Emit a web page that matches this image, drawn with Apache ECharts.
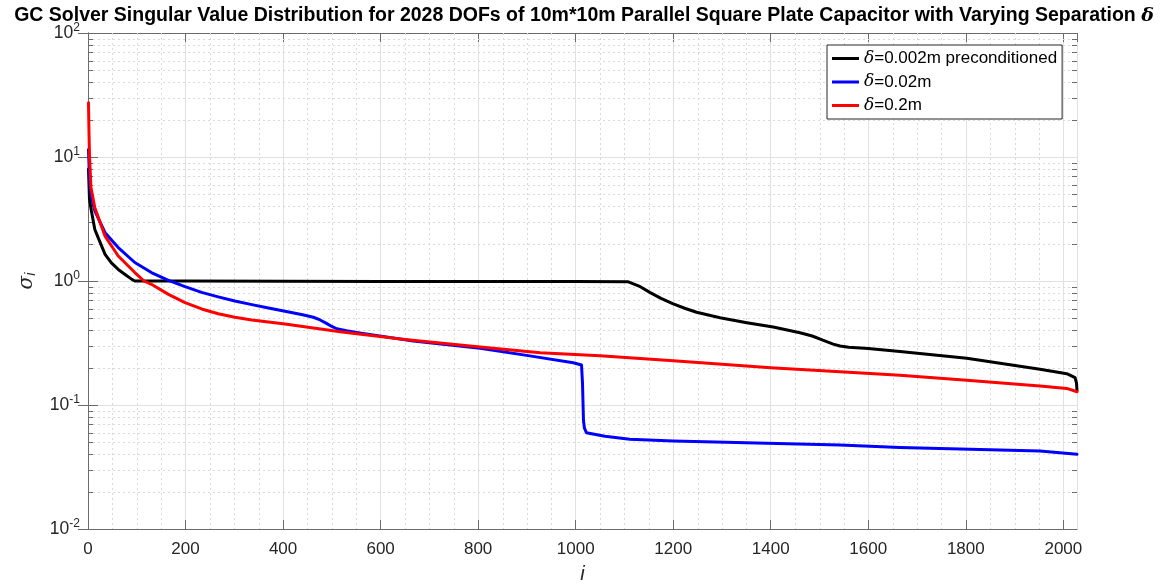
<!DOCTYPE html>
<html>
<head>
<meta charset="utf-8">
<script src="https://cdn.jsdelivr.net/npm/echarts@6/dist/echarts.min.js"></script>
<style>
  html, body { margin: 0; padding: 0; background: #ffffff; }
  #chart { width: 1168px; height: 584px; }
</style>
</head>
<body>
<div id="chart"></div>
<script>
// Singular values sigma_i against index i, one series per plate separation.
const blackIdx = [1, 3, 7, 14, 21, 35, 48, 62, 76, 90, 96, 200, 400, 600, 800, 1000, 1108, 1130, 1152, 1175, 1200, 1225, 1248, 1296, 1351, 1405, 1460, 1485, 1508, 1528, 1542, 1560, 1600, 1665, 1802, 1952, 2007, 2024, 2027, 2028];
const blackVal = [8.0, 4.6, 3.67, 2.6, 2.23, 1.64, 1.40, 1.24, 1.13, 1.03, 1.0, 1.0, 0.995, 0.993, 0.992, 0.99, 0.985, 0.91, 0.81, 0.725, 0.655, 0.60, 0.56, 0.506, 0.461, 0.425, 0.383, 0.36, 0.332, 0.31, 0.299, 0.292, 0.285, 0.27, 0.238, 0.194, 0.179, 0.166, 0.15, 0.13];

const blueIdx = [1, 3, 6, 14, 35, 62, 96, 130, 165, 199, 233, 267, 301, 336, 370, 404, 440, 462, 476, 489, 500, 510, 530, 560, 667, 804, 906, 995, 1012, 1014, 1016, 1018, 1022, 1060, 1111, 1200, 1542, 1665, 1952, 2028];
const blueVal = [11.5, 6.8, 5.0, 3.67, 2.45, 1.86, 1.41, 1.17, 1.01, 0.90, 0.81, 0.745, 0.69, 0.645, 0.605, 0.57, 0.535, 0.51, 0.485, 0.455, 0.43, 0.412, 0.397, 0.38, 0.328, 0.287, 0.249, 0.219, 0.21, 0.15, 0.075, 0.065, 0.0598, 0.056, 0.053, 0.0513, 0.0476, 0.0454, 0.0425, 0.040];

const redIdx = [1, 2, 3, 6, 14, 35, 62, 96, 115, 130, 165, 199, 233, 267, 301, 336, 404, 517, 650, 804, 927, 1050, 1200, 1400, 1542, 1665, 1802, 1952, 2007, 2028];
const redVal = [27.4, 16.0, 10.5, 5.7, 3.9, 2.3, 1.59, 1.17, 1.0, 0.94, 0.78, 0.67, 0.595, 0.545, 0.51, 0.485, 0.45, 0.39, 0.338, 0.294, 0.264, 0.249, 0.227, 0.2, 0.185, 0.174, 0.158, 0.142, 0.136, 0.128];

const seriesNames = ['δ=0.002m preconditioned', 'δ=0.02m', 'δ=0.2m'];
const seriesColors = ['#000000', '#0000ff', '#ff0000'];

// Axis ranges and tick positions
const xMin = 0, xMax = 2028, xStep = 200;
const yMin = 0.01, yMax = 100;
const xMinorTicks = [50, 100, 150, 250, 300, 350, 450, 500, 550, 650, 700, 750, 850, 900, 950, 1050, 1100, 1150, 1250, 1300, 1350, 1450, 1500, 1550, 1650, 1700, 1750, 1850, 1900, 1950];
const yDecades = [0.01, 0.1, 1, 10];
const yMantissas = [2, 3, 4, 5, 6, 7, 8, 9];

const FONT = '"Liberation Sans", Arial, Helvetica, sans-serif';
const SERIF = '"DejaVu Serif", "Liberation Serif", serif';
const AXIS_COLOR = '#6b6b6b';
const LABEL_COLOR = '#262626';
const MAJOR_GRID = '#e1e1e1';
const MINOR_GRID = '#dadada';

function zip(a, b) { return a.map((v, k) => [v, b[k]]); }

// Minor grid lines (dotted) for both axes plus minor ticks on the log axis
function renderMinor(params, api) {
  const cs = params.coordSys;
  const x0 = cs.x, x1 = cs.x + cs.width, y0 = cs.y, y1 = cs.y + cs.height;
  const children = [];
  const dot = { stroke: MINOR_GRID, lineWidth: 1, lineDash: [2, 3] };
  const tick = { stroke: AXIS_COLOR, lineWidth: 1 };
  xMinorTicks.forEach(v => {
    const px = Math.round(api.coord([v, 1])[0]) + 0.5;
    children.push({ type: 'line', silent: true, shape: { x1: px, y1: y0, x2: px, y2: y1 }, style: dot });
  });
  yDecades.forEach(d => {
    yMantissas.forEach(m => {
      const py = Math.round(api.coord([0, d * m])[1]) + 0.5;
      children.push({ type: 'line', silent: true, shape: { x1: x0, y1: py, x2: x1, y2: py }, style: dot });
      children.push({ type: 'line', silent: true, shape: { x1: x0, y1: py, x2: x0 + 5, y2: py }, style: tick });
      children.push({ type: 'line', silent: true, shape: { x1: x1 - 5, y1: py, x2: x1, y2: py }, style: tick });
    });
  });
  return { type: 'group', children: children };
}

const logLabel = {
  formatter: v => '{b|10}{e|' + Math.round(Math.log10(v)) + '}',
  margin: 8,
  rich: {
    b: { fontSize: 17.5, fontFamily: FONT, color: LABEL_COLOR, verticalAlign: 'bottom', lineHeight: 19 },
    e: { fontSize: 12, fontFamily: FONT, color: LABEL_COLOR, verticalAlign: 'bottom', padding: [0, 0, 9, 0], lineHeight: 13 }
  }
};

const chart = echarts.init(document.getElementById('chart'), null, { renderer: 'canvas' });

chart.setOption({
  animation: false,
  backgroundColor: '#ffffff',
  title: {
    text: '{t|GC Solver Singular Value Distribution for 2028 DOFs of 10m*10m Parallel Square Plate Capacitor with Varying Separation }{d|δ}',
    left: 'center',
    top: 1,
    textStyle: {
      rich: {
        t: { fontSize: 19.5, fontWeight: 'bold', fontFamily: FONT, color: '#000000' },
        d: { fontSize: 19, fontStyle: 'italic', fontFamily: SERIF, color: '#000000' }
      }
    }
  },
  grid: { left: 88, top: 33, right: 91, bottom: 55, containLabel: false, outerBoundsMode: 'none' },
  legend: {
    orient: 'vertical',
    left: 827,
    top: 45,
    data: seriesNames,
    icon: 'rect',
    itemWidth: 27,
    itemHeight: 3,
    itemGap: 4.5,
    padding: [4, 5, 4, 5],
    borderColor: '#262626',
    borderWidth: 1,
    backgroundColor: '#ffffff',
    formatter: name => '{d|δ}' + name.slice(1),
    textStyle: {
      fontSize: 17,
      fontFamily: FONT,
      color: '#000000',
      lineHeight: 19,
      rich: {
        d: { fontSize: 17, fontStyle: 'italic', fontFamily: SERIF, color: '#000000', lineHeight: 19 }
      }
    }
  },
  xAxis: [
    {
      type: 'value', min: xMin, max: xMax, interval: xStep,
      name: 'i', nameLocation: 'middle', nameGap: 35,
      nameTextStyle: { fontSize: 20, fontStyle: 'italic', fontFamily: FONT, color: LABEL_COLOR },
      axisLine: { show: true, lineStyle: { color: AXIS_COLOR, width: 1 } },
      axisTick: { show: true, inside: true, length: 9, lineStyle: { color: AXIS_COLOR } },
      axisLabel: { fontSize: 17, fontFamily: FONT, color: LABEL_COLOR, margin: 12, showMaxLabel: false, formatter: v => String(v) },
      splitLine: { show: true, lineStyle: { color: MAJOR_GRID, width: 1 } }
    },
    {
      type: 'value', min: xMin, max: xMax, interval: xStep, position: 'top',
      axisLine: { show: true, lineStyle: { color: AXIS_COLOR, width: 1 } },
      axisTick: { show: true, inside: true, length: 9, lineStyle: { color: AXIS_COLOR } },
      axisLabel: { show: false },
      splitLine: { show: false }
    }
  ],
  yAxis: [
    {
      type: 'log', logBase: 10, min: yMin, max: yMax, splitNumber: 4,
      name: '{s|σ}{i|i}', nameLocation: 'middle', nameGap: 50, nameRotate: 90,
      nameTextStyle: {
        rich: {
          s: { fontSize: 20, fontStyle: 'italic', fontFamily: SERIF, color: LABEL_COLOR },
          i: { fontSize: 14, fontStyle: 'italic', fontFamily: FONT, color: LABEL_COLOR, padding: [9, 0, 0, 0] }
        }
      },
      axisLine: { show: true, lineStyle: { color: AXIS_COLOR, width: 1 } },
      axisTick: { show: true, inside: true, length: 10, lineStyle: { color: AXIS_COLOR } },
      axisLabel: logLabel,
      splitLine: { show: true, lineStyle: { color: MAJOR_GRID, width: 1 } }
    },
    {
      type: 'log', logBase: 10, min: yMin, max: yMax, splitNumber: 4, position: 'right',
      axisLine: { show: true, lineStyle: { color: AXIS_COLOR, width: 1 } },
      axisTick: { show: true, inside: true, length: 10, lineStyle: { color: AXIS_COLOR } },
      axisLabel: { show: false },
      splitLine: { show: false }
    }
  ],
  series: [
    {
      type: 'custom', name: 'minor', xAxisIndex: 0, yAxisIndex: 0,
      data: [[1, 1]], renderItem: renderMinor, silent: true, z: 1, clip: false
    },
    {
      type: 'line', name: seriesNames[0], data: zip(blackIdx, blackVal),
      showSymbol: false, color: seriesColors[0],
      lineStyle: { color: seriesColors[0], width: 3, join: 'round', cap: 'round' }, z: 3
    },
    {
      type: 'line', name: seriesNames[1], data: zip(blueIdx, blueVal),
      showSymbol: false, color: seriesColors[1],
      lineStyle: { color: seriesColors[1], width: 3, join: 'round', cap: 'round' }, z: 3
    },
    {
      type: 'line', name: seriesNames[2], data: zip(redIdx, redVal),
      showSymbol: false, color: seriesColors[2],
      lineStyle: { color: seriesColors[2], width: 3, join: 'round', cap: 'round' }, z: 3
    }
  ]
});
</script>
</body>
</html>
